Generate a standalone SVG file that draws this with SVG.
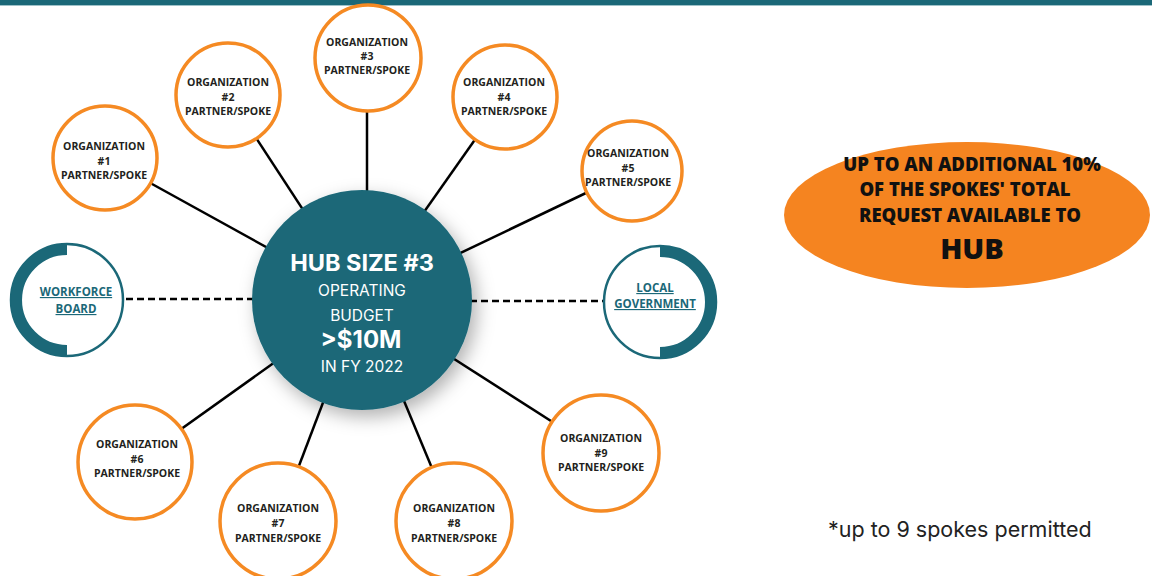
<svg xmlns="http://www.w3.org/2000/svg" width="1152" height="576" viewBox="0 0 1152 576">
<style>
.org circle{fill:#fff;stroke:#f58a23;stroke-width:3.5}
.org text{font-family:"Open Sans","Liberation Sans",sans-serif;font-weight:700;font-size:10.5px;fill:#231f20;text-anchor:middle}
.conn line{stroke:#000;stroke-width:2.5}
.conn .dash{stroke-dasharray:7,4}
.side .ring{fill:#fff;stroke:#1b6878;stroke-width:2.5}
.side .arc{fill:none;stroke:#1b6878;stroke-width:11}
.side text{font-family:"Open Sans","Liberation Sans",sans-serif;font-weight:700;font-size:11.5px;fill:#1b6878;text-anchor:middle;text-decoration:underline}
.hub text{font-family:Inter,"Liberation Sans",sans-serif;fill:#fff;text-anchor:middle}
</style>
<defs>
<filter id="sh" x="-30%" y="-30%" width="160%" height="160%">
<feDropShadow dx="5" dy="7" stdDeviation="9" flood-color="#000" flood-opacity="0.3"/>
</filter>
</defs>
<rect x="0" y="0" width="1152" height="577" fill="#fff"/>
<rect x="0" y="0" width="1152" height="5" fill="#1b6878"/>
<rect x="0" y="5" width="1152" height="1" fill="#9fc2c9"/>

<g class="conn">
<line x1="362" y1="300" x2="105" y2="158"/>
<line x1="362" y1="300" x2="228" y2="95"/>
<line x1="367" y1="300" x2="367" y2="58"/>
<line x1="362" y1="300" x2="505" y2="97"/>
<line x1="362" y1="300" x2="632" y2="171"/>
<line x1="362" y1="300" x2="135" y2="462"/>
<line x1="362" y1="300" x2="278" y2="521"/>
<line x1="362" y1="300" x2="454" y2="521"/>
<line x1="362" y1="300" x2="601" y2="453"/>
<line class="dash" x1="126" y1="299" x2="254" y2="299"/>
<line class="dash" x1="470" y1="301" x2="604" y2="301"/>
</g>

<g id="hub" class="hub">
<circle cx="362" cy="300" r="110" fill="#1b6878" filter="url(#sh)"/>
<text x="362" y="271" font-size="23.5" font-weight="700">HUB SIZE #3</text>
<text x="362" y="296" font-size="15.5">OPERATING</text>
<text x="362" y="321" font-size="15.5">BUDGET</text>
<text x="361" y="348" font-size="24" font-weight="700">&gt;$10M</text>
<text x="362" y="372" font-size="15.5">IN FY 2022</text>
</g>

<g id="org1" class="org"><circle cx="105" cy="158" r="52"/>
<text x="104" y="150">ORGANIZATION</text><text x="104" y="165">#1</text><text x="104" y="179">PARTNER/SPOKE</text></g>
<g id="org2" class="org"><circle cx="228" cy="95" r="52"/>
<text x="228" y="86">ORGANIZATION</text><text x="228" y="101">#2</text><text x="228" y="115">PARTNER/SPOKE</text></g>
<g id="org3" class="org"><circle cx="368" cy="58" r="53"/>
<text x="367" y="46">ORGANIZATION</text><text x="367" y="60">#3</text><text x="367" y="74">PARTNER/SPOKE</text></g>
<g id="org4" class="org"><circle cx="505" cy="97" r="52"/>
<text x="504" y="86">ORGANIZATION</text><text x="504" y="101">#4</text><text x="504" y="115">PARTNER/SPOKE</text></g>
<g id="org5" class="org"><circle cx="632" cy="171" r="50"/>
<text x="628" y="157">ORGANIZATION</text><text x="628" y="172">#5</text><text x="628" y="186">PARTNER/SPOKE</text></g>
<g id="org6" class="org"><circle cx="135" cy="462" r="57"/>
<text x="137" y="448">ORGANIZATION</text><text x="137" y="463">#6</text><text x="137" y="477">PARTNER/SPOKE</text></g>
<g id="org7" class="org"><circle cx="278" cy="521" r="58"/>
<text x="278" y="512">ORGANIZATION</text><text x="278" y="527">#7</text><text x="278" y="542">PARTNER/SPOKE</text></g>
<g id="org8" class="org"><circle cx="454" cy="521" r="58"/>
<text x="454" y="512">ORGANIZATION</text><text x="454" y="527">#8</text><text x="454" y="542">PARTNER/SPOKE</text></g>
<g id="org9" class="org"><circle cx="601" cy="453" r="58"/>
<text x="601" y="442">ORGANIZATION</text><text x="601" y="457">#9</text><text x="601" y="471">PARTNER/SPOKE</text></g>

<g id="workforce" class="side">
<circle class="ring" cx="67" cy="300" r="56"/>
<path class="arc" d="M67 249.5 A50.5 50.5 0 0 0 67 350.5"/>
<text x="76" y="296">WORKFORCE</text>
<text x="76" y="313">BOARD</text>
</g>
<g id="localgov" class="side">
<circle class="ring" cx="660" cy="302" r="56"/>
<path class="arc" d="M660 251.5 A50.5 50.5 0 0 1 660 352.5"/>
<text x="655" y="292">LOCAL</text>
<text x="655" y="308">GOVERNMENT</text>
</g>

<g id="bonus">
<ellipse cx="967" cy="215" rx="183" ry="73" fill="#f58420"/>
<g font-family="'Open Sans','Liberation Sans',sans-serif" font-weight="800" fill="#111" text-anchor="middle">
<text x="972" y="171" font-size="18.5">UP TO AN ADDITIONAL 10%</text>
<text x="965" y="196" font-size="18.5">OF THE SPOKES' TOTAL</text>
<text x="970" y="222" font-size="18.5">REQUEST AVAILABLE TO</text>
<text x="972" y="259" font-size="29">HUB</text>
</g>
</g>

<text id="note" x="828" y="537" font-family="Inter,'Liberation Sans',sans-serif" font-size="21.5" fill="#222">*up to 9 spokes permitted</text>
</svg>
